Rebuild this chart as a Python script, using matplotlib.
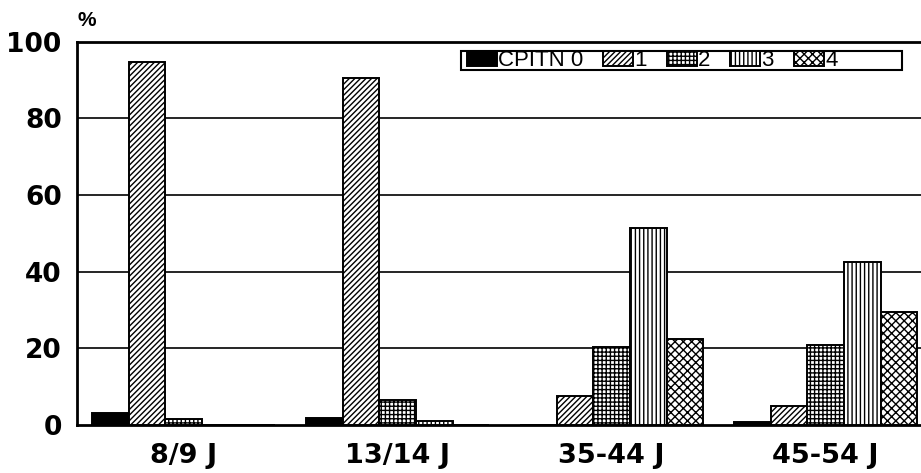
import matplotlib
matplotlib.use("Agg")
import matplotlib.pyplot as plt
from matplotlib.patches import Rectangle
import numpy as np

plt.rcParams['font.family'] = ['Liberation Sans', 'DejaVu Sans']
plt.rcParams['hatch.linewidth'] = 1.0

groups = ["8/9 J", "13/14 J", "35-44 J", "45-54 J"]
series_names = ["CPITN 0", "1", "2", "3", "4"]
cpitn0 = [3.1, 1.9, 0.0, 0.8]
cpitn1 = [94.8, 90.6, 7.6, 5.0]
cpitn2 = [1.6, 6.5, 20.3, 20.9]
cpitn3 = [0.0, 1.1, 51.4, 42.4]
cpitn4 = [0.0, 0.0, 22.4, 29.6]
series = [cpitn0, cpitn1, cpitn2, cpitn3, cpitn4]

faces = ["black", "white", "white", "white", "white"]
hatches = [None, "//////", "++++", "||||", "xxxx"]

fig = plt.figure(figsize=(9.21, 4.73), dpi=100)
ax = fig.add_axes([77/921, 48/473, 844/921, 383.3/473])

x = np.arange(len(groups))
w = 0.1715
for k, vals in enumerate(series):
    ax.bar(x + (k - 2) * w, vals, w, color=faces[k], edgecolor="black",
           hatch=hatches[k], linewidth=1.4, label=series_names[k], zorder=3)

ax.set_xlim(-0.498, 3.446)
ax.set_ylim(0, 100)
ax.set_yticks([0, 20, 40, 60, 80, 100])
ax.set_xticks(x)
ax.set_xticklabels(groups)
ax.tick_params(axis="both", length=0)
ax.tick_params(axis="y", pad=11, labelsize=19)
ax.tick_params(axis="x", pad=13, labelsize=19.5)
for t in ax.get_xticklabels() + ax.get_yticklabels():
    t.set_fontweight("bold")
    t.set_family("DejaVu Sans")

for yv in [20, 40, 60, 80]:
    ax.axhline(yv, color="black", lw=1.2, zorder=1)

ax.spines["right"].set_visible(False)
for s in ["left", "bottom", "top"]:
    ax.spines[s].set_linewidth(2)

leg = ax.legend(ncol=5, frameon=False, loc="center left",
                bbox_to_anchor=((467 - 77) / 844, (425 - 60.5) / 383.3),
                borderpad=0, borderaxespad=0, handlelength=1.35,
                handleheight=0.65, handletextpad=0.05, columnspacing=0.9,
                prop={"size": 16})
ax.add_patch(Rectangle(((461 - 77) / 844, (425 - 70) / 383.3), 441 / 844,
                       19 / 383.3, transform=ax.transAxes, fill=False,
                       edgecolor="black", lw=1.5, zorder=5, clip_on=False))

fig.text(87/921, 1 - 20/473, "%", fontsize=15, fontweight="bold",
         ha="center", va="center")

fig.savefig("out.png", dpi=100)
